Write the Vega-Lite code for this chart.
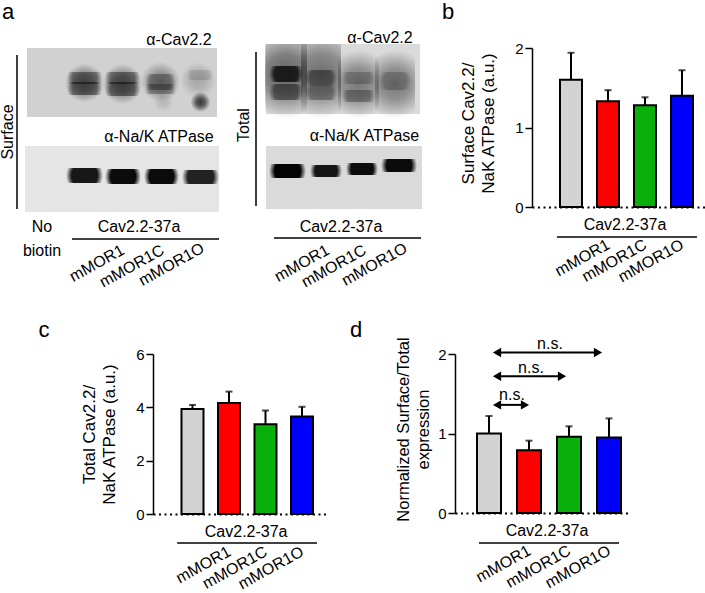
{"$schema":"https://vega.github.io/schema/vega-lite/v6.json","padding":0,"background":"white","config":{"font":"Liberation Sans","view":{"stroke":null},"axis":{"grid":false,"domainColor":"#000","tickColor":"#000","labelColor":"#000","titleColor":"#000","titleFontWeight":"normal"},"text":{"color":"#000"}},"vconcat":[{"hconcat":[{"width":439,"height":300,"layer":[{"data":{"values":[{"x":26,"x2":216,"y":48,"y2":117,"intensity":0.16},{"x":24,"x2":218,"y":146,"y2":212,"intensity":0.09},{"x":265,"x2":419,"y":44,"y2":114,"intensity":0.13},{"x":265,"x2":421,"y":146,"y2":209,"intensity":0.13}]},"mark":{"type":"rect"},"encoding":{"x":{"field":"x","type":"quantitative","scale":{"domain":[0,439]},"axis":null},"x2":{"field":"x2"},"y":{"field":"y","type":"quantitative","scale":{"domain":[300,0]},"axis":null},"y2":{"field":"y2"},"color":{"field":"intensity","type":"quantitative","scale":{"domain":[0,1],"range":["#ffffff","#000000"]},"legend":null}}},{"data":{"values":[{"x":64,"x2":103,"y":64,"y2":102,"d":0.5},{"x":102,"x2":141,"y":64,"y2":104,"d":0.5},{"x":141,"x2":178,"y":62,"y2":102,"d":0.4},{"x":179,"x2":215,"y":62,"y2":98,"d":0.2},{"x":190,"x2":209,"y":92,"y2":112,"d":0.75},{"x":153,"x2":172,"y":92,"y2":112,"d":0.12},{"x":264,"x2":306,"y":30,"y2":118,"d":0.55},{"x":300,"x2":340,"y":30,"y2":118,"d":0.5},{"x":337,"x2":378,"y":50,"y2":118,"d":0.45},{"x":374,"x2":414,"y":50,"y2":118,"d":0.45}]},"mark":{"type":"rect","fill":{"gradient":"radial","stops":[{"offset":0,"color":"#000000"},{"offset":0.45,"color":"rgba(0,0,0,0.75)"},{"offset":1,"color":"rgba(0,0,0,0)"}]}},"encoding":{"x":{"field":"x","type":"quantitative","scale":{"domain":[0,439]},"axis":null},"x2":{"field":"x2"},"y":{"field":"y","type":"quantitative","scale":{"domain":[300,0]},"axis":null},"y2":{"field":"y2"},"opacity":{"field":"d","type":"quantitative","scale":{"domain":[0,1],"range":[0,1]},"legend":null}}},{"data":{"values":[{"x":66,"x2":101,"y":72,"y2":84,"d":0.4},{"x":66,"x2":101,"y":82,"y2":95,"d":0.45},{"x":104,"x2":139,"y":72,"y2":84,"d":0.4},{"x":104,"x2":139,"y":82,"y2":96,"d":0.45},{"x":144,"x2":175,"y":74,"y2":90,"d":0.3},{"x":144,"x2":175,"y":84,"y2":94,"d":0.3},{"x":186,"x2":212,"y":70,"y2":80,"d":0.12},{"x":65,"x2":102,"y":168,"y2":183,"d":0.9},{"x":104,"x2":140,"y":169,"y2":184,"d":0.95},{"x":143,"x2":178,"y":169,"y2":184,"d":0.95},{"x":181,"x2":218,"y":170,"y2":184,"d":0.85},{"x":268,"x2":302,"y":66,"y2":82,"d":0.75},{"x":268,"x2":302,"y":84,"y2":100,"d":0.45},{"x":304,"x2":336,"y":70,"y2":86,"d":0.4},{"x":304,"x2":336,"y":86,"y2":100,"d":0.3},{"x":341,"x2":374,"y":72,"y2":84,"d":0.2},{"x":341,"x2":374,"y":90,"y2":102,"d":0.3},{"x":378,"x2":410,"y":72,"y2":90,"d":0.2},{"x":268,"x2":305,"y":164,"y2":178,"d":0.98},{"x":309,"x2":341,"y":165,"y2":177,"d":0.9},{"x":345,"x2":377,"y":163,"y2":175,"d":0.95},{"x":380,"x2":416,"y":159,"y2":172,"d":0.95}]},"mark":{"type":"rect","fill":{"gradient":"radial","stops":[{"offset":0,"color":"#000000"},{"offset":0.7,"color":"#000000"},{"offset":1,"color":"rgba(0,0,0,0)"}]}},"encoding":{"x":{"field":"x","type":"quantitative","scale":{"domain":[0,439]},"axis":null},"x2":{"field":"x2"},"y":{"field":"y","type":"quantitative","scale":{"domain":[300,0]},"axis":null},"y2":{"field":"y2"},"opacity":{"field":"d","type":"quantitative","scale":{"domain":[0,1],"range":[0,1]},"legend":null}}},{"data":{"values":[{"x":0,"x2":439,"y":0,"y2":44},{"x":219,"x2":262,"y":44,"y2":120}]},"mark":{"type":"rect","color":"#ffffff"},"encoding":{"x":{"field":"x","type":"quantitative","scale":{"domain":[0,439]},"axis":null},"x2":{"field":"x2"},"y":{"field":"y","type":"quantitative","scale":{"domain":[300,0]},"axis":null},"y2":{"field":"y2"}}},{"data":{"values":[{"x":16,"x2":16,"y":55,"y2":209},{"x":255,"x2":255,"y":52,"y2":206},{"x":71,"x2":218,"y":239,"y2":239},{"x":273,"x2":420,"y":238,"y2":238}]},"mark":{"type":"rule","strokeWidth":1.5,"color":"#000"},"encoding":{"x":{"field":"x","type":"quantitative","scale":{"domain":[0,439]},"axis":null},"x2":{"field":"x2"},"y":{"field":"y","type":"quantitative","scale":{"domain":[300,0]},"axis":null},"y2":{"field":"y2"}}},{"data":{"values":[{"x":178,"y":40,"label":"α-Cav2.2"},{"x":158,"y":137,"label":"α-Na/K ATPase"},{"x":379,"y":38,"label":"α-Cav2.2"},{"x":363.5,"y":136,"label":"α-Na/K ATPase"},{"x":41,"y":227,"label":"No"},{"x":41,"y":251,"label":"biotin"},{"x":138,"y":227,"label":"Cav2.2-37a"},{"x":340,"y":227,"label":"Cav2.2-37a"}]},"mark":{"type":"text","fontSize":16,"baseline":"middle"},"encoding":{"x":{"field":"x","type":"quantitative","scale":{"domain":[0,439]},"axis":null},"y":{"field":"y","type":"quantitative","scale":{"domain":[300,0]},"axis":null},"text":{"field":"label"}}},{"data":{"values":[{"x":7,"y":132,"label":"Surface"},{"x":243,"y":125,"label":"Total"}]},"mark":{"type":"text","fontSize":16,"baseline":"middle","angle":270},"encoding":{"x":{"field":"x","type":"quantitative","scale":{"domain":[0,439]},"axis":null},"y":{"field":"y","type":"quantitative","scale":{"domain":[300,0]},"axis":null},"text":{"field":"label"}}},{"data":{"values":[{"x":122,"y":249,"label":"mMOR1"},{"x":162,"y":249,"label":"mMOR1C"},{"x":202,"y":247,"label":"mMOR1O"},{"x":327,"y":249,"label":"mMOR1"},{"x":364,"y":249,"label":"mMOR1C"},{"x":405,"y":247,"label":"mMOR1O"}]},"mark":{"type":"text","fontSize":16,"baseline":"middle","align":"right","angle":331},"encoding":{"x":{"field":"x","type":"quantitative","scale":{"domain":[0,439]},"axis":null},"y":{"field":"y","type":"quantitative","scale":{"domain":[300,0]},"axis":null},"text":{"field":"label"}}},{"data":{"values":[{"x":7,"y":12,"label":"a"}]},"mark":{"type":"text","fontSize":22,"baseline":"middle"},"encoding":{"x":{"field":"x","type":"quantitative","scale":{"domain":[0,439]},"axis":null},"y":{"field":"y","type":"quantitative","scale":{"domain":[300,0]},"axis":null},"text":{"field":"label"}}}]},{"spacing":0,"vconcat":[{"width":174,"height":41,"data":{"values":[{"x":-84,"y":12,"label":"b"}]},"mark":{"type":"text","fontSize":22,"baseline":"middle"},"encoding":{"x":{"field":"x","type":"quantitative","scale":{"domain":[0,174]},"axis":null},"y":{"field":"y","type":"quantitative","scale":{"domain":[41,0]},"axis":null},"text":{"field":"label"}}},{"width":174,"height":159,"layer":[{"data":{"values":[{"lane":1,"construct":"Control","value":1.6,"upper":1.94},{"lane":2,"construct":"mMOR1","value":1.33,"upper":1.47},{"lane":3,"construct":"mMOR1C","value":1.28,"upper":1.38},{"lane":4,"construct":"mMOR1O","value":1.4,"upper":1.72}]},"layer":[{"mark":{"type":"rule","strokeWidth":2,"color":"#000"},"encoding":{"x":{"field":"lane","type":"quantitative","scale":{"domain":[-0.054,4.649],"nice":false,"zero":false,"padding":0},"title":null,"axis":{"values":[2,3,4],"labelExpr":"datum.value==2?'mMOR1':datum.value==3?'mMOR1C':'mMOR1O'","ticks":false,"domainDash":[2,3.5],"domainWidth":2,"labelAngle":-29,"labelAlign":"right","labelBaseline":"middle","labelFontSize":16,"labelPadding":36,"labelBound":false,"labelFlush":false,"labelOverlap":false}},"y":{"field":"value","type":"quantitative","scale":{"domain":[0,2],"nice":false},"axis":{"values":[0,0.5,1,1.5,2],"labelExpr":"datum.value%1==0?format(datum.value,'d'):''","labelOverlap":false,"title":["Surface Cav2.2/","NaK ATPase (a.u.)"],"titleFontSize":17,"titleLineHeight":20,"titlePadding":17,"titleY":75,"domainWidth":1.5,"tickWidth":1.5,"tickSize":7,"labelFontSize":15,"labelPadding":2}},"y2":{"field":"upper"}}},{"mark":{"type":"tick","orient":"horizontal","size":7,"thickness":2,"color":"#000"},"encoding":{"x":{"field":"lane","type":"quantitative","scale":{"domain":[-0.054,4.649],"nice":false,"zero":false,"padding":0}},"y":{"field":"upper","type":"quantitative","scale":{"domain":[0,2],"nice":false}}}},{"mark":{"type":"bar","size":22,"stroke":"#000","strokeWidth":2},"encoding":{"x":{"field":"lane","type":"quantitative","scale":{"domain":[-0.054,4.649],"nice":false,"zero":false,"padding":0}},"y":{"field":"value","type":"quantitative","scale":{"domain":[0,2],"nice":false}},"color":{"field":"construct","type":"nominal","sort":null,"scale":{"domain":["Control","mMOR1","mMOR1C","mMOR1O"],"range":["#d3d3d3","#ff0000","#0ab00a","#0000ff"]},"legend":null}}}]},{"data":{"values":[{"lane":2.46,"level":-0.226,"label":"Cav2.2-37a"}]},"mark":{"type":"text","fontSize":16,"baseline":"middle"},"encoding":{"x":{"field":"lane","type":"quantitative","scale":{"domain":[-0.054,4.649],"nice":false,"zero":false,"padding":0}},"y":{"field":"level","type":"quantitative","scale":{"domain":[0,2],"nice":false}},"text":{"field":"label"}}},{"data":{"values":[{"from":0.62,"to":4.405,"level":-0.377}]},"mark":{"type":"rule","strokeWidth":1.5,"color":"#000"},"encoding":{"x":{"field":"from","type":"quantitative","scale":{"domain":[-0.054,4.649],"nice":false,"zero":false,"padding":0}},"x2":{"field":"to"},"y":{"field":"level","type":"quantitative","scale":{"domain":[0,2],"nice":false}}}}]}]}],"spacing":1},{"spacing":0,"hconcat":[{"width":79,"height":160,"data":{"values":[{"x":43,"y":-24,"label":"c"}]},"mark":{"type":"text","fontSize":22,"baseline":"middle"},"encoding":{"x":{"field":"x","type":"quantitative","scale":{"domain":[0,79]},"axis":null},"y":{"field":"y","type":"quantitative","scale":{"domain":[160,0]},"axis":null},"text":{"field":"label"}}},{"width":174,"height":160,"layer":[{"data":{"values":[{"lane":1,"construct":"Control","value":3.94,"upper":4.09},{"lane":2,"construct":"mMOR1","value":4.16,"upper":4.59},{"lane":3,"construct":"mMOR1C","value":3.37,"upper":3.88},{"lane":4,"construct":"mMOR1O","value":3.66,"upper":4.02}]},"layer":[{"mark":{"type":"rule","strokeWidth":2,"color":"#000"},"encoding":{"x":{"field":"lane","type":"quantitative","scale":{"domain":[-0.082,4.685],"nice":false,"zero":false,"padding":0},"title":null,"axis":{"values":[2,3,4],"labelExpr":"datum.value==2?'mMOR1':datum.value==3?'mMOR1C':'mMOR1O'","ticks":false,"domainDash":[2,3.5],"domainWidth":2,"labelAngle":-29,"labelAlign":"right","labelBaseline":"middle","labelFontSize":16,"labelPadding":36,"labelBound":false,"labelFlush":false,"labelOverlap":false}},"y":{"field":"value","type":"quantitative","scale":{"domain":[0,6],"nice":false},"axis":{"values":[0,1,2,3,4,5,6],"labelExpr":"datum.value%2==0?format(datum.value,'d'):''","labelOverlap":false,"title":["Total Cav2.2/","NaK ATPase (a.u.)"],"titleFontSize":17,"titleLineHeight":20,"titlePadding":17,"domainWidth":1.5,"tickWidth":1.5,"tickSize":7,"labelFontSize":15,"labelPadding":2}},"y2":{"field":"upper"}}},{"mark":{"type":"tick","orient":"horizontal","size":7,"thickness":2,"color":"#000"},"encoding":{"x":{"field":"lane","type":"quantitative","scale":{"domain":[-0.082,4.685],"nice":false,"zero":false,"padding":0}},"y":{"field":"upper","type":"quantitative","scale":{"domain":[0,6],"nice":false}}}},{"mark":{"type":"bar","size":22,"stroke":"#000","strokeWidth":2},"encoding":{"x":{"field":"lane","type":"quantitative","scale":{"domain":[-0.082,4.685],"nice":false,"zero":false,"padding":0}},"y":{"field":"value","type":"quantitative","scale":{"domain":[0,6],"nice":false}},"color":{"field":"construct","type":"nominal","sort":null,"scale":{"domain":["Control","mMOR1","mMOR1C","mMOR1O"],"range":["#d3d3d3","#ff0000","#0ab00a","#0000ff"]},"legend":null}}}]},{"data":{"values":[{"lane":2.47,"level":-0.675,"label":"Cav2.2-37a"}]},"mark":{"type":"text","fontSize":16,"baseline":"middle"},"encoding":{"x":{"field":"lane","type":"quantitative","scale":{"domain":[-0.082,4.685],"nice":false,"zero":false,"padding":0}},"y":{"field":"level","type":"quantitative","scale":{"domain":[0,6],"nice":false}},"text":{"field":"label"}}},{"data":{"values":[{"from":0.58,"to":4.41,"level":-1.09}]},"mark":{"type":"rule","strokeWidth":1.5,"color":"#000"},"encoding":{"x":{"field":"from","type":"quantitative","scale":{"domain":[-0.082,4.685],"nice":false,"zero":false,"padding":0}},"x2":{"field":"to"},"y":{"field":"level","type":"quantitative","scale":{"domain":[0,6],"nice":false}}}}]},{"width":68,"height":160,"data":{"values":[{"x":29,"y":-24,"label":"d"}]},"mark":{"type":"text","fontSize":22,"baseline":"middle"},"encoding":{"x":{"field":"x","type":"quantitative","scale":{"domain":[0,68]},"axis":null},"y":{"field":"y","type":"quantitative","scale":{"domain":[160,0]},"axis":null},"text":{"field":"label"}}},{"width":173,"height":159,"layer":[{"data":{"values":[{"lane":1,"construct":"Control","value":1.0,"upper":1.22},{"lane":2,"construct":"mMOR1","value":0.79,"upper":0.91},{"lane":3,"construct":"mMOR1C","value":0.96,"upper":1.09},{"lane":4,"construct":"mMOR1O","value":0.95,"upper":1.19}]},"layer":[{"mark":{"type":"rule","strokeWidth":2,"color":"#000"},"encoding":{"x":{"field":"lane","type":"quantitative","scale":{"domain":[0.15,4.475],"nice":false,"zero":false,"padding":0},"title":null,"axis":{"values":[2,3,4],"labelExpr":"datum.value==2?'mMOR1':datum.value==3?'mMOR1C':'mMOR1O'","ticks":false,"domainDash":[2,3.5],"domainWidth":2,"labelAngle":-29,"labelAlign":"right","labelBaseline":"middle","labelFontSize":16,"labelPadding":36,"labelBound":false,"labelFlush":false,"labelOverlap":false}},"y":{"field":"value","type":"quantitative","scale":{"domain":[0,2],"nice":false},"axis":{"values":[0,0.5,1,1.5,2],"labelExpr":"datum.value%1==0?format(datum.value,'d'):''","labelOverlap":false,"title":["Normalized Surface/Total","expression"],"titleFontSize":16.5,"titleLineHeight":20,"titlePadding":6,"titleY":75,"domainWidth":1.5,"tickWidth":1.5,"tickSize":7,"labelFontSize":15,"labelPadding":2}},"y2":{"field":"upper"}}},{"mark":{"type":"tick","orient":"horizontal","size":7,"thickness":2,"color":"#000"},"encoding":{"x":{"field":"lane","type":"quantitative","scale":{"domain":[0.15,4.475],"nice":false,"zero":false,"padding":0}},"y":{"field":"upper","type":"quantitative","scale":{"domain":[0,2],"nice":false}}}},{"mark":{"type":"bar","size":24,"stroke":"#000","strokeWidth":2},"encoding":{"x":{"field":"lane","type":"quantitative","scale":{"domain":[0.15,4.475],"nice":false,"zero":false,"padding":0}},"y":{"field":"value","type":"quantitative","scale":{"domain":[0,2],"nice":false}},"color":{"field":"construct","type":"nominal","sort":null,"scale":{"domain":["Control","mMOR1","mMOR1C","mMOR1O"],"range":["#d3d3d3","#ff0000","#0ab00a","#0000ff"]},"legend":null}}}]},{"data":{"values":[{"lane":2.45,"level":-0.226,"label":"Cav2.2-37a"},{"lane":2.525,"level":2.125,"label":"n.s."},{"lane":2.05,"level":1.82,"label":"n.s."},{"lane":1.575,"level":1.48,"label":"n.s."}]},"mark":{"type":"text","fontSize":16,"baseline":"middle"},"encoding":{"x":{"field":"lane","type":"quantitative","scale":{"domain":[0.15,4.475],"nice":false,"zero":false,"padding":0}},"y":{"field":"level","type":"quantitative","scale":{"domain":[0,2],"nice":false}},"text":{"field":"label"}}},{"data":{"values":[{"from":0.75,"to":4.25,"level":-0.377}]},"mark":{"type":"rule","strokeWidth":1.5,"color":"#000"},"encoding":{"x":{"field":"from","type":"quantitative","scale":{"domain":[0.15,4.475],"nice":false,"zero":false,"padding":0}},"x2":{"field":"to"},"y":{"field":"level","type":"quantitative","scale":{"domain":[0,2],"nice":false}}}},{"data":{"values":[{"from":1.2,"to":3.725,"level":2.02},{"from":1.2,"to":2.825,"level":1.72},{"from":1.2,"to":1.9,"level":1.36}]},"layer":[{"mark":{"type":"rule","strokeWidth":2,"color":"#000"},"encoding":{"x":{"field":"from","type":"quantitative","scale":{"domain":[0.15,4.475],"nice":false,"zero":false,"padding":0}},"x2":{"field":"to"},"y":{"field":"level","type":"quantitative","scale":{"domain":[0,2],"nice":false}}}},{"mark":{"type":"point","shape":"triangle-left","filled":true,"size":90,"color":"#000","opacity":1},"encoding":{"x":{"field":"from","type":"quantitative","scale":{"domain":[0.15,4.475],"nice":false,"zero":false,"padding":0}},"y":{"field":"level","type":"quantitative","scale":{"domain":[0,2],"nice":false}}}},{"mark":{"type":"point","shape":"triangle-right","filled":true,"size":90,"color":"#000","opacity":1},"encoding":{"x":{"field":"to","type":"quantitative","scale":{"domain":[0.15,4.475],"nice":false,"zero":false,"padding":0}},"y":{"field":"level","type":"quantitative","scale":{"domain":[0,2],"nice":false}}}}]}]}]}],"spacing":19}
